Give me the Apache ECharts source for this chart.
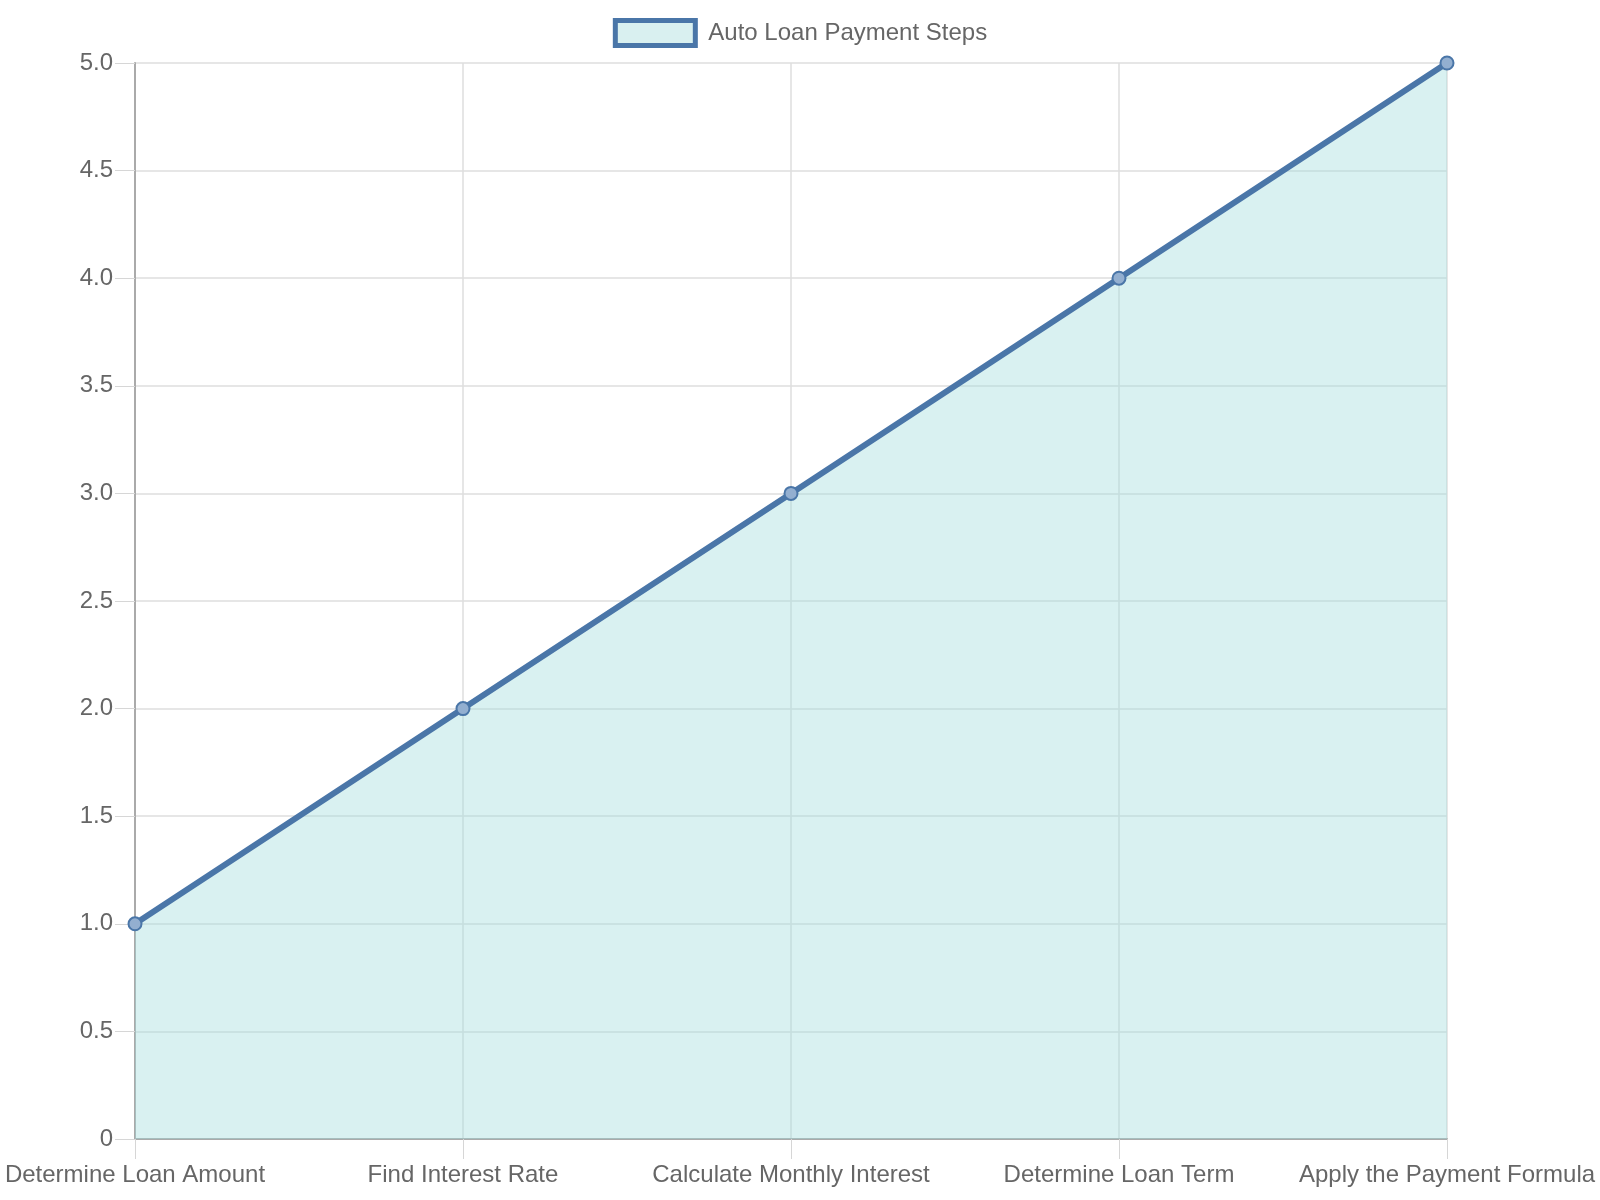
<!DOCTYPE html>
<html lang="en">
<head>
    <meta charset="UTF-8">
    <title>Auto Loan Payment Steps</title>
    <script src="https://cdn.jsdelivr.net/npm/echarts@6/dist/echarts.min.js"></script>
    <style>
        html, body { margin: 0; padding: 0; background: #fff; }
        #chart_wrap { width: 1600px; height: 1200px; }
    </style>
</head>
<body>
<div id="chart_wrap"></div>
<script type="text/javascript">
// data
var stepNames = ["Determine Loan Amount", "Find Interest Rate", "Calculate Monthly Interest", "Determine Loan Term", "Apply the Payment Formula"];
var stepValues = [1, 2, 3, 4, 5];
var seriesName = "Auto Loan Payment Steps";

var textColor = "#666";
var gridColor = "#dedede";
var lineColor = "#4a76a8";
var fontFamily = "Liberation Sans, Arial, sans-serif";

var chart = echarts.init(document.getElementById("chart_wrap"));
var option = {
    textStyle: { fontFamily: fontFamily },
    animation: false,
    legend: {
        top: 13,
        left: "center",
        icon: "rect",
        itemWidth: 80,
        itemHeight: 25,
        itemGap: 10,
        itemStyle: {
            color: "#d9f0f0",
            borderColor: lineColor,
            borderWidth: 5
        },
        textStyle: { color: textColor, fontSize: 24, fontFamily: fontFamily, padding: [0, 0, 0, 8] },
        data: [seriesName]
    },
    grid: {
        left: 135,
        right: 153,
        top: 63,
        bottom: 61,
        containLabel: false
    },
    xAxis: {
        type: "category",
        boundaryGap: false,
        data: stepNames,
        axisLine: { lineStyle: { color: "#aaa", width: 2 } },
        axisTick: { show: true, length: 20, lineStyle: { color: "#d6d6d6" } },
        axisLabel: { color: textColor, fontSize: 24, margin: 24, interval: 0 },
        splitLine: { show: true, lineStyle: { color: gridColor, width: 1.5 } }
    },
    yAxis: {
        type: "value",
        min: 0,
        max: 5,
        interval: 0.5,
        axisLine: { show: true, lineStyle: { color: "#aaa", width: 2 } },
        axisTick: { show: true, length: 20, lineStyle: { color: "#d6d6d6" } },
        axisLabel: {
            color: textColor,
            fontSize: 24,
            margin: 22,
            formatter: function (v) { return v === 0 ? "0" : v.toFixed(1); }
        },
        splitLine: { show: true, lineStyle: { color: gridColor, width: 1.5 } }
    },
    series: [
        {
            name: seriesName,
            type: "line",
            data: stepValues,
            symbol: "circle",
            symbolSize: 13,
            showAllSymbol: true,
            lineStyle: { color: lineColor, width: 6 },
            itemStyle: { color: "#93afd0", borderColor: lineColor, borderWidth: 2 },
            areaStyle: { color: "rgba(160,220,220,0.4)", opacity: 1 }
        }
    ]
};
chart.setOption(option);
</script>
</body>
</html>
